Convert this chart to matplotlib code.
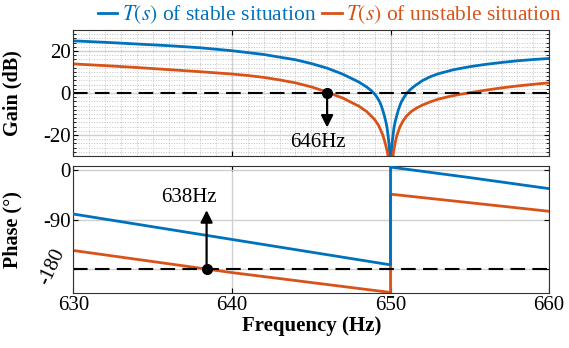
import numpy as np
import matplotlib
matplotlib.use('Agg')
from matplotlib import pyplot as plt
from matplotlib.ticker import MultipleLocator
from matplotlib.transforms import blended_transform_factory

plt.rcParams['font.family'] = ['Liberation Serif', 'DejaVu Serif']
plt.rcParams['mathtext.fontset'] = 'stix'

# gain curves
f_gain_stable = [630, 632, 634, 636, 638, 640, 642, 644, 645, 646, 647, 648, 648.5, 648.75,
                 649, 649.15, 649.3, 649.4, 649.5, 649.6, 649.7, 649.78, 649.85, 649.9, 649.95,
                 650, 650.05, 650.1, 650.15, 650.22, 650.3, 650.4, 650.5, 650.6, 650.7, 650.85,
                 651, 651.25, 651.5, 652, 652.5, 653, 654, 655, 656, 657, 658, 659, 660]
gain_stable = [24.8, 24.1, 23.3, 22.5, 21.5, 20.1, 18.3, 15.8, 14.0, 11.8, 8.9, 5.2, 2.8, 1.3,
               -0.5, -2.1, -4.0, -5.8, -8.0, -10.6, -13.5, -16.5, -20.5, -24, -29,
               -40, -29, -24, -20.5, -16.5, -13.5, -10.6, -8.0, -5.8, -4.0, -2.1,
               -0.3, 1.6, 3.2, 5.8, 7.7, 9.1, 11.1, 12.5, 13.6, 14.5, 15.3, 15.9, 16.4]

f_gain_unstable = [630, 632, 634, 636, 638, 640, 641, 642, 643, 644, 645, 646, 647, 648, 648.5, 649,
                   649.25, 649.5, 649.65, 649.8, 649.9, 649.95, 650, 650.05, 650.1, 650.2,
                   650.3, 650.4, 650.6, 650.8, 651, 651.3, 651.6, 652, 652.5, 653, 653.7,
                   654.3, 655, 656, 657, 658, 659, 660]
gain_unstable = [13.8, 13.0, 12.1, 11.1, 10.1, 9.0, 8.3, 7.4, 6.2, 4.8, 2.9, 0.4, -2.5, -6.3, -8.9, -12.7,
                 -15.5, -19.8, -23.5, -28, -33, -37, -45, -38, -33, -27.5,
                 -23.5, -20.3, -16, -13.2, -11.1, -8.9, -7.4, -5.8, -4.3, -3.0, -1.7,
                 -0.8, 0.1, 1.3, 2.4, 3.3, 4.1, 4.8]

# phase curves
f_phase_stable = [630, 640, 650, 650, 655, 660]
phase_stable = [-80, -126, -172, 5, -14, -34]
f_phase_unstable = [630, 640, 650, 650, 660]
phase_unstable = [-146, -186, -222, -44, -75]

c_blue = '#0072BD'
c_orange = '#D95319'
dash = (0, (7, 3.5))

fig = plt.figure(figsize=(5.69, 3.48), dpi=100)
ax1 = fig.add_axes([0.129, 0.552, 0.836, 0.362])
ax2 = fig.add_axes([0.129, 0.158, 0.836, 0.365])

l1, = ax1.plot(f_gain_stable, gain_stable, color=c_blue, lw=2, label='$T(s)$ of stable situation')
l2, = ax1.plot(f_gain_unstable, gain_unstable, color=c_orange, lw=2, label='$T(s)$ of unstable situation')
ax1.axhline(0, color='k', lw=1.5, ls=dash)
ax1.plot(646, 0, 'ko', ms=7)
ax1.annotate('', xy=(646, -16.5), xytext=(646, 0),
             arrowprops=dict(arrowstyle='-|>', color='k', lw=1.6, mutation_scale=18, shrinkA=0, shrinkB=0))
ax1.text(645.4, -23.7, '646Hz', ha='center', va='center', fontsize=15)

ax1.set_xlim(630, 660)
ax1.set_ylim(-30, 30)
ax1.set_yticks([-20, 0, 20])
ax1.set_yticklabels(['-20', '0', '20'])
ax1.set_xticks([630, 640, 650, 660])
ax1.set_xticklabels([])
ax1.xaxis.set_minor_locator(MultipleLocator(1))
ax1.yaxis.set_minor_locator(MultipleLocator(2))
ax1.grid(True, which='major', color='#d0d0d0', lw=1)
ax1.grid(True, which='minor', color='#c4c4c4', lw=0.7, ls=':')
ax1.tick_params(which='both', direction='in', top=True, right=True, labelsize=15, pad=2)
ax1.tick_params(which='minor', length=2.5, top=False, bottom=False)
ax1.set_ylabel('Gain (dB)', fontsize=14.5, fontweight='bold')
ax1.yaxis.set_label_coords(-0.108, 0.5)

ax2.plot(f_phase_unstable, phase_unstable, color=c_orange, lw=2, zorder=2)
ax2.plot(f_phase_stable, phase_stable, color=c_blue, lw=2, zorder=3)
ax2.axhline(-180, color='k', lw=1.5, ls=dash)
ax2.plot(638.4, -180, 'ko', ms=7, zorder=4)
ax2.annotate('', xy=(638.4, -73), xytext=(638.4, -180),
             arrowprops=dict(arrowstyle='-|>', color='k', lw=1.6, mutation_scale=18, shrinkA=0, shrinkB=0))
ax2.text(637.3, -50, '638Hz', ha='center', va='center', fontsize=15)

ax2.set_xlim(630, 660)
ax2.set_ylim(-223, 7)
ax2.set_xticks([630, 640, 650, 660])
ax2.set_yticks([-180, -90, 0])
ax2.set_yticklabels(['', '-90', '0'])
ax2.text(-0.045, -176, '-180', rotation=65, ha='center', va='center', fontsize=15,
         transform=blended_transform_factory(ax2.transAxes, ax2.transData))
ax2.grid(True, color='#d0d0d0', lw=1)
ax2.tick_params(direction='in', top=True, right=True, labelsize=15, pad=2)
ax2.set_ylabel('Phase (°)', fontsize=14.5, fontweight='bold')
ax2.yaxis.set_label_coords(-0.108, 0.5)
ax2.set_xlabel('Frequency (Hz)', fontsize=15, fontweight='bold', labelpad=1)

for ax in (ax1, ax2):
    for s in ax.spines.values():
        s.set_color('#333333')
        s.set_linewidth(0.8)
    ax.set_axisbelow(True)

fig.legend(handles=[l1, l2], loc='center', bbox_to_anchor=(0.58, 0.957), ncol=2,
           frameon=False, fontsize=15.5, handlelength=0.9, handletextpad=0.2,
           columnspacing=0.3, labelcolor='linecolor', borderpad=0)

fig.savefig('out.png', dpi=100)
